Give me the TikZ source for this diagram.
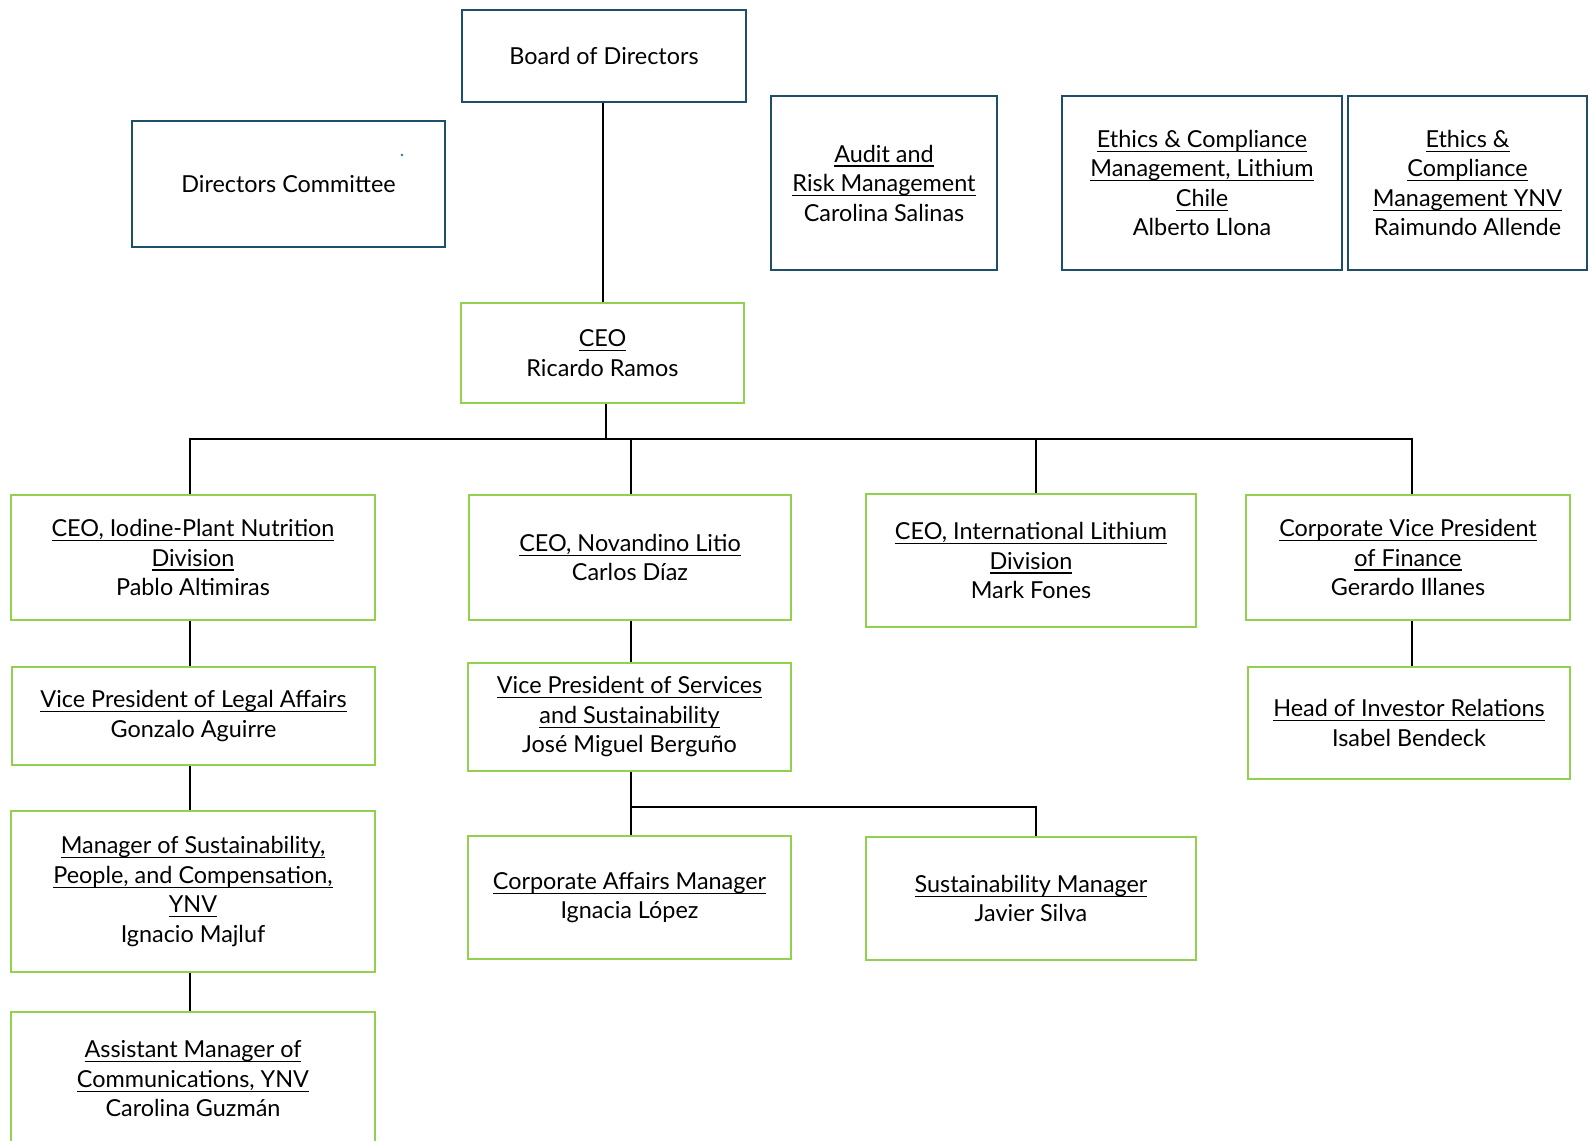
\documentclass[tikz,border=0pt]{standalone}
\usepackage{fontspec}
\setmainfont{Lato}
\definecolor{navy}{HTML}{1F4E69}
\definecolor{lgreen}{HTML}{92D050}
\definecolor{dotblue}{HTML}{2E75B6}
\newcommand\uline[1]{\leavevmode\setbox0\hbox{#1}\rlap{\rule[-4.5pt]{\wd0}{1.1pt}}\box0}
\tikzset{
  basebox/.style={line width=2.5pt, align=center, inner sep=0pt, fill=white,
    font=\fontsize{23.4}{29.5}\selectfont},
  bluebox/.style={basebox, draw=navy},
  greenbox/.style={basebox, draw=lgreen},
  conn/.style={draw=black, line width=1.2pt}
}
\begin{document}
\begin{tikzpicture}[x=1pt,y=-1pt]
\useasboundingbox (0,0) rectangle (1589,1140);
\begin{scope}
\clip (0,0) rectangle (1589,1140);
% top row
\node[bluebox, minimum width=284, minimum height=92] (board) at (604,56) {Board of Directors};
\node[bluebox, minimum width=313, minimum height=126] (dircom) at (288.5,184) {Directors Committee};
\node[bluebox, minimum width=226, minimum height=174] (audit) at (884,183) {\uline{Audit and}\\\uline{Risk Management}\\Carolina Salinas};
\node[bluebox, minimum width=280, minimum height=174] (ethL) at (1202,183) {\uline{Ethics \& Compliance}\\\uline{Management, Lithium}\\\uline{Chile}\\Alberto Llona};
\node[bluebox, minimum width=239, minimum height=174] (ethY) at (1467.5,183) {\uline{Ethics \&}\\\uline{Compliance}\\\uline{Management YNV}\\Raimundo Allende};
\fill[dotblue] (402,155) circle (1.3);
% CEO
\node[greenbox, minimum width=283, minimum height=100] (ceo) at (602.5,353) {\uline{CEO}\\Ricardo Ramos};
% level 1
\node[greenbox, minimum width=364, minimum height=125] (iod) at (193,557.5) {\uline{CEO, Iodine-Plant Nutrition}\\\uline{Division}\\Pablo Altimiras};
\node[greenbox, minimum width=322, minimum height=125] (nov) at (630,557.5) {\uline{CEO, Novandino Litio}\\Carlos Díaz};
\node[greenbox, minimum width=330, minimum height=133] (intl) at (1031,560.5) {\uline{CEO, International Lithium}\\\uline{Division}\\Mark Fones};
\node[greenbox, minimum width=324, minimum height=125] (cvp) at (1408,557.5) {\uline{Corporate Vice President}\\\uline{of Finance}\\Gerardo Illanes};
% level 2
\node[greenbox, minimum width=363, minimum height=98] (legal) at (193.5,716) {\uline{Vice President of Legal Affairs}\\Gonzalo Aguirre};
\node[greenbox, minimum width=323, minimum height=108] (vps) at (629.5,717) {\uline{Vice President of Services}\\\uline{and Sustainability}\\José Miguel Berguño};
\node[greenbox, minimum width=322, minimum height=112] (hir) at (1409,723) {\uline{Head of Investor Relations}\\Isabel Bendeck};
% level 3
\node[greenbox, minimum width=364, minimum height=161] (msp) at (193,891.5) {\uline{Manager of Sustainability,}\\\uline{People, and Compensation,}\\\uline{YNV}\\Ignacio Majluf};
\node[greenbox, minimum width=323, minimum height=123] (caf) at (629.5,897.5) {\uline{Corporate Affairs Manager}\\Ignacia López};
\node[greenbox, minimum width=330, minimum height=123] (sm) at (1031,898.5) {\uline{Sustainability Manager}\\Javier Silva};
% level 4
\node[greenbox, minimum width=364, minimum height=134] (asst) at (193,1079) {\uline{Assistant Manager of}\\\uline{Communications, YNV}\\Carolina Guzmán};
% connector columns
\coordinate (bus) at (190,439);
\coordinate (bus2) at (631,807);
\coordinate (xB) at (603,0);
\coordinate (xC) at (606,0);
\coordinate (xL) at (190,0);
\coordinate (xN) at (631,0);
\coordinate (xI) at (1036,0);
\coordinate (xV) at (1412,0);
% connectors
\draw[conn] (board.south -| xB) -- (ceo.north -| xB);
\draw[conn] (ceo.south -| xC) -- (bus -| xC);
\draw[conn] (iod.north -| xL) -- (bus -| xL) -- (bus -| xV) -- (cvp.north -| xV);
\draw[conn] (nov.north -| xN) -- (bus -| xN);
\draw[conn] (intl.north -| xI) -- (bus -| xI);
\draw[conn] (iod.south -| xL) -- (legal.north -| xL);
\draw[conn] (legal.south -| xL) -- (msp.north -| xL);
\draw[conn] (msp.south -| xL) -- (asst.north -| xL);
\draw[conn] (nov.south -| xN) -- (vps.north -| xN);
\draw[conn] (cvp.south -| xV) -- (hir.north -| xV);
\draw[conn] (vps.south -| xN) -- (caf.north -| xN);
\draw[conn] (bus2 -| xN) -- (bus2 -| xI) -- (sm.north -| xI);
\end{scope}
\end{tikzpicture}
\end{document}
